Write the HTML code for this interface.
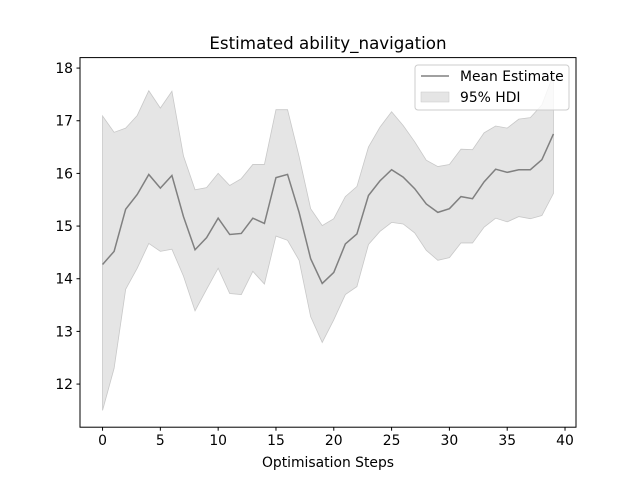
<!DOCTYPE html>
<html><head><meta charset="utf-8"><style>
html,body{margin:0;padding:0;background:#fff;}
svg{display:block;font-family:"DejaVu Sans","Liberation Sans",sans-serif;}
</style></head><body>
<svg id="chart" width="640" height="480" xmlns="http://www.w3.org/2000/svg">
<rect width="640" height="480" fill="#fff"/>
<text x="328" y="49" font-size="16.7" text-anchor="middle">Estimated ability_navigation</text>
<g id="plot"></g>
<rect x="80" y="57.6" width="496" height="369.6" fill="none" stroke="#000" stroke-width="1"/>
<g>
<rect x="415" y="65" width="154" height="45" rx="3" fill="#fff" fill-opacity="0.8" stroke="#ccc"/>
<line x1="421" y1="76" x2="449" y2="76" stroke="#808080" stroke-width="1.5"/>
<text x="460" y="80.8" font-size="13.9">Mean Estimate</text>
<rect x="421" y="92" width="28" height="10" fill="#d3d3d3" fill-opacity="0.6" stroke="#c8c8c8" stroke-width="0.5"/>
<text x="460" y="102" font-size="13.9">95% HDI</text>
</g>
<text x="328" y="467" font-size="13.9" text-anchor="middle">Optimisation Steps</text>
</svg>
<script>
const meanVals=[14.27,14.52,15.32,15.6,15.98,15.72,15.96,15.18,14.55,14.78,15.15,14.84,14.86,15.15,15.05,15.92,15.98,15.26,14.38,13.91,14.12,14.66,14.85,15.58,15.86,16.07,15.93,15.71,15.42,15.26,15.33,15.56,15.52,15.84,16.08,16.02,16.07,16.07,16.26,16.75];
const upperVals=[17.09,16.78,16.86,17.1,17.57,17.24,17.56,16.33,15.69,15.73,16.0,15.77,15.9,16.17,16.17,17.21,17.21,16.32,15.33,15.01,15.14,15.56,15.75,16.5,16.88,17.17,16.91,16.6,16.25,16.13,16.17,16.46,16.45,16.77,16.9,16.86,17.03,17.06,17.3,17.88];
const lowerVals=[11.5,12.3,13.8,14.2,14.67,14.52,14.56,14.05,13.39,13.8,14.2,13.72,13.7,14.14,13.9,14.81,14.73,14.35,13.28,12.79,13.22,13.7,13.85,14.65,14.9,15.07,15.04,14.87,14.54,14.35,14.4,14.68,14.68,14.98,15.15,15.08,15.18,15.14,15.2,15.62];
const xTicks=[0,5,10,15,20,25,30,35,40];
const yTicks=[12,13,14,15,16,17,18];
const NS="http://www.w3.org/2000/svg";
const L=80,R=576,T=57.6,B=427.2;
const n=meanVals.length;
const xmin=-0.05*(n-1),xmax=(n-1)*1.05;
const all=upperVals.concat(lowerVals,meanVals);
const dmin=Math.min(...all),dmax=Math.max(...all),pad=(dmax-dmin)*0.05;
const ymin=dmin-pad,ymax=dmax+pad;
const xs=v=>L+(v-xmin)/(xmax-xmin)*(R-L);
const ys=v=>B-(v-ymin)/(ymax-ymin)*(B-T);
const g=document.getElementById('plot');
function mk(t,a){const e=document.createElementNS(NS,t);for(const k in a)e.setAttribute(k,a[k]);g.appendChild(e);return e;}
let d="";
upperVals.forEach((v,i)=>{d+=(i?"L":"M")+xs(i)+","+ys(v);});
for(let i=n-1;i>=0;i--)d+="L"+xs(i)+","+ys(lowerVals[i]);
const band=mk('path',{d:d+"Z",fill:"#d3d3d3","fill-opacity":"0.6",stroke:"#c8c8c8","stroke-width":"0.8"});


const line=mk('polyline',{points:meanVals.map((v,i)=>xs(i)+","+ys(v)).join(" "),fill:"none",stroke:"#808080","stroke-width":"1.5"});


xTicks.forEach(t=>{const x=xs(t);
const tk=mk('line',{x1:x,x2:x,y1:B,y2:B+3.5,stroke:"#000"});


const tl=mk('text',{x:x,y:B+18,"font-size":"13.9","text-anchor":"middle"});tl.textContent=t;

});
yTicks.forEach(t=>{const y=ys(t);
const tk=mk('line',{x1:L-3.5,x2:L,y1:y,y2:y,stroke:"#000"});


const tl=mk('text',{x:L-7,y:y+5,"font-size":"13.9","text-anchor":"end"});tl.textContent=t;

});
</script>
</body></html>
